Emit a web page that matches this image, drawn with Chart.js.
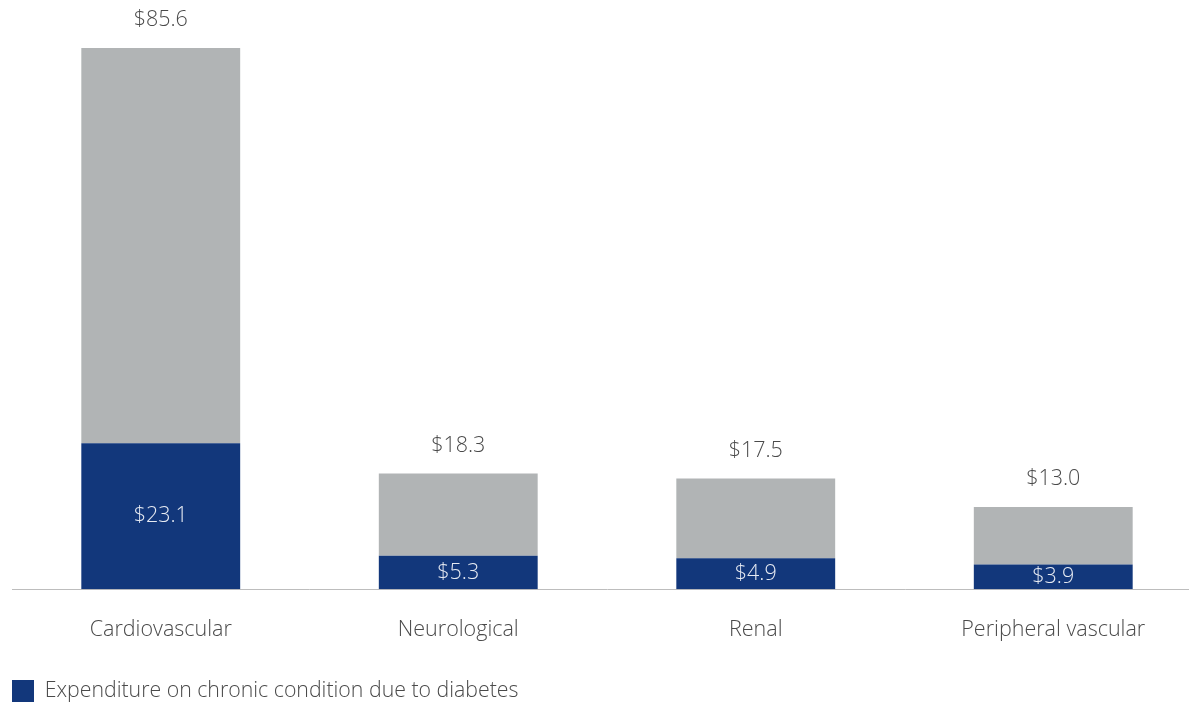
<!DOCTYPE html>
<html lang="en">
<head>
<meta charset="UTF-8">
<title>Chronic condition expenditure</title>
<style>
  html, body { margin: 0; padding: 0; background: #fff; overflow: hidden; }
  #wrap { width: 1202px; height: 704px; position: relative; }
</style>
</head>
<body>
<div id="wrap"><canvas id="myChart"></canvas></div>

<script src="https://cdn.jsdelivr.net/npm/chart.js"></script>
<script>
const categories = ['Cardiovascular', 'Neurological', 'Renal', 'Peripheral vascular'];
const diabetesPart = [23.1, 5.3, 4.9, 3.9];
const totals = [85.6, 18.3, 17.5, 13.0];
const rest = totals.map((t, i) => +(t - diabetesPart[i]).toFixed(1));

const FONT = '"Open Sans", "Noto Sans", sans-serif';

// labels on bars: total above, diabetes share inside the blue part
const barLabels = {
  id: 'barLabels',
  afterDatasetsDraw(chart) {
    const ctx = chart.ctx;
    const blue = chart.getDatasetMeta(0).data;
    const grey = chart.getDatasetMeta(1).data;
    ctx.save();
    ctx.font = '300 21.5px ' + FONT;
    ctx.textAlign = 'center';
    ctx.textBaseline = 'middle';
    for (let i = 0; i < categories.length; i++) {
      const b = blue[i];
      ctx.fillStyle = '#e6eaf2';
      ctx.fillText('$' + diabetesPart[i].toFixed(1), b.x, (b.y + b.base) / 2);
      const g = grey[i];
      ctx.fillStyle = '#4a4a4a';
      ctx.fillText('$' + totals[i].toFixed(1), g.x, g.y - 28);
    }
    ctx.restore();
  }
};

new Chart(document.getElementById('myChart'), {
  type: 'bar',
  data: {
    labels: categories,
    datasets: [{
      label: 'Expenditure on chronic condition due to diabetes',
      data: diabetesPart,
      backgroundColor: '#12377b'
    }, {
      label: 'Other expenditure',
      data: rest,
      backgroundColor: '#b1b4b5'
    }]
  },
  options: {
    responsive: true,
    maintainAspectRatio: false,
    animation: false,
    datasets: { bar: { categoryPercentage: 1, barPercentage: 0.534 } },
    layout: { padding: { left: 12, top: 48, right: 0, bottom: -8 } },
    scales: {
      x: {
        stacked: true,
        grid: { display: false, drawTicks: false },
        border: { color: '#bdbdbd', width: 1 },
        ticks: { color: '#4a4a4a', font: { family: FONT, size: 21.5, weight: 300 }, padding: 28 },
        afterFit(scale) { scale.height += 9; }
      },
      y: {
        stacked: true,
        display: false,
        min: 0,
        max: Math.max(...totals)
      }
    },
    plugins: {
      tooltip: { enabled: false },
      legend: {
        position: 'bottom',
        align: 'start',
        labels: {
          filter: item => item.datasetIndex === 0,
          boxWidth: 22,
          boxHeight: 22,
          padding: 0,
          color: '#4a4a4a',
          font: { family: FONT, size: 21.3, weight: 300 }
        }
      }
    }
  },
  plugins: [barLabels]
});
</script>
</body>
</html>
